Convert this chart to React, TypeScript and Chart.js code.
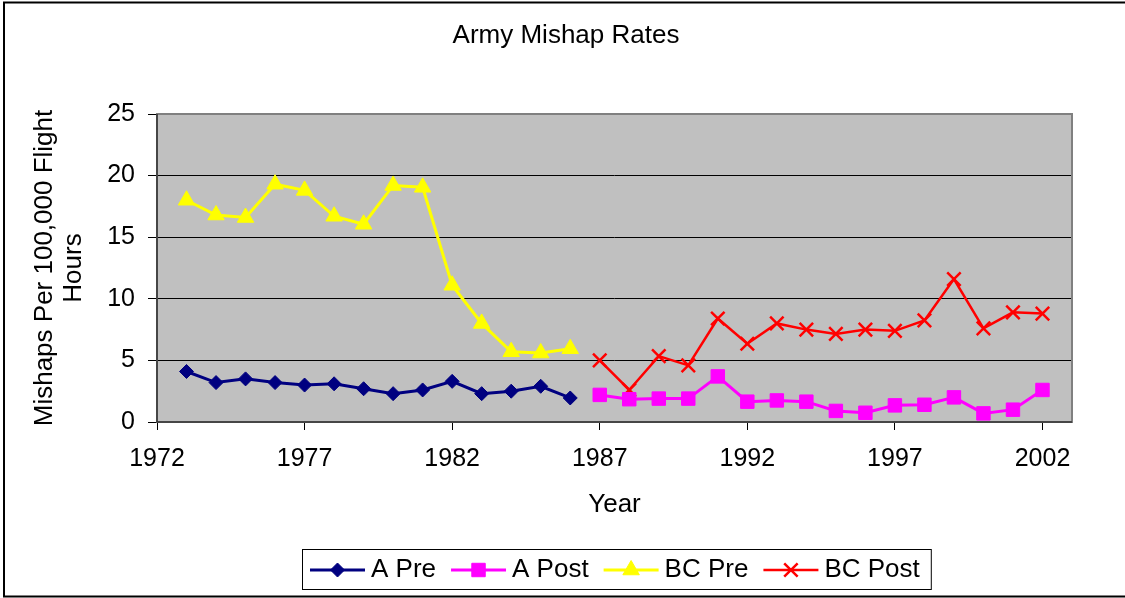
import React, { useEffect, useRef } from "react";
import { Chart, registerables } from "chart.js";

Chart.register(...registerables);

const FONT = '"Liberation Sans", Arial, sans-serif';

const chartTitle = "Army Mishap Rates";
const yTitleLines = ["Mishaps Per 100,000 Flight", "Hours"];
const xTitle = "Year";

const preYears = [1973, 1974, 1975, 1976, 1977, 1978, 1979, 1980, 1981, 1982, 1983, 1984, 1985, 1986];
const postYears = [1987, 1988, 1989, 1990, 1991, 1992, 1993, 1994, 1995, 1996, 1997, 1998, 1999, 2000, 2001, 2002];

const aPre = [4.1, 3.2, 3.5, 3.2, 3.0, 3.1, 2.7, 2.3, 2.6, 3.3, 2.3, 2.5, 2.9, 1.95];
const aPost = [2.2, 1.85, 1.9, 1.9, 3.7, 1.65, 1.75, 1.65, 0.9, 0.75, 1.35, 1.4, 2.0, 0.7, 1.0, 2.6];
const bcPre = [18.0, 16.8, 16.6, 19.3, 18.8, 16.7, 16.05, 19.2, 19.05, 11.1, 8.0, 5.7, 5.6, 5.95];
const bcPost = [5.0, 2.6, 5.35, 4.6, 8.4, 6.35, 8.0, 7.5, 7.15, 7.5, 7.4, 8.25, 11.6, 7.6, 8.9, 8.8];

const xTickYears = [1972, 1977, 1982, 1987, 1992, 1997, 2002];
const xMin = 1972;
const xMax = 2003;
const yMin = 0;
const yMax = 25;
const yStep = 5;

const toPoints = (xs: number[], ys: number[]) => xs.map((x, i) => ({ x, y: ys[i] }));

function drawMarker(ctx: CanvasRenderingContext2D, style: string, x: number, y: number, r: number, fill: string, stroke: string, bw: number) {
  ctx.save();
  ctx.fillStyle = fill;
  ctx.strokeStyle = stroke;
  ctx.lineWidth = bw;
  ctx.beginPath();
  if (style === "rectRot") {
    ctx.moveTo(x, y - r);
    ctx.lineTo(x + r, y);
    ctx.lineTo(x, y + r);
    ctx.lineTo(x - r, y);
    ctx.closePath();
    ctx.fill();
    ctx.stroke();
  } else if (style === "rect") {
    const s = r * Math.SQRT1_2;
    ctx.rect(x - s, y - s, 2 * s, 2 * s);
    ctx.fill();
    ctx.stroke();
  } else if (style === "triangle") {
    for (let k = 0; k < 3; k++) {
      const a = (k * 2 * Math.PI) / 3;
      const px = x + Math.sin(a) * r;
      const py = y - Math.cos(a) * r;
      if (k === 0) ctx.moveTo(px, py);
      else ctx.lineTo(px, py);
    }
    ctx.closePath();
    ctx.fill();
    ctx.stroke();
  } else if (style === "crossRot") {
    const o = r * Math.SQRT1_2;
    ctx.moveTo(x - o, y - o);
    ctx.lineTo(x + o, y + o);
    ctx.moveTo(x - o, y + o);
    ctx.lineTo(x + o, y - o);
    ctx.stroke();
  }
  ctx.restore();
}

const decorPlugin = {
  id: "decor",
  beforeDraw(chart: any) {
    const { ctx, chartArea: a } = chart;
    ctx.save();
    ctx.fillStyle = "#ffffff";
    ctx.fillRect(0, 0, chart.width, chart.height);
    ctx.fillStyle = "#C0C0C0";
    ctx.fillRect(a.left, a.top, a.right - a.left, a.bottom - a.top);
    ctx.restore();
  },
  beforeDatasetsDraw(chart: any) {
    const { ctx, chartArea: a } = chart;
    ctx.save();
    ctx.strokeStyle = "#808080";
    ctx.lineWidth = 2;
    ctx.strokeRect(a.left, a.top, a.right - a.left, a.bottom - a.top);
    ctx.strokeStyle = "#333333";
    ctx.lineWidth = 1.5;
    ctx.beginPath();
    ctx.moveTo(a.left, a.top);
    ctx.lineTo(a.left, a.bottom);
    ctx.lineTo(a.right, a.bottom);
    ctx.stroke();
    ctx.restore();
  },
  afterDraw(chart: any) {
    const { ctx, chartArea: a } = chart;
    ctx.save();
    ctx.strokeStyle = "#000000";
    ctx.lineWidth = 2;
    ctx.beginPath();
    ctx.moveTo(chart.width, 2.5);
    ctx.lineTo(4, 2.5);
    ctx.lineTo(4, 596.5);
    ctx.lineTo(chart.width, 596.5);
    ctx.stroke();

    ctx.fillStyle = "#000000";
    ctx.textAlign = "center";
    ctx.textBaseline = "middle";
    ctx.font = `26px ${FONT}`;
    ctx.fillText(chartTitle, 566, 36);

    const cx = (a.left + a.right) / 2;
    const cy = (a.top + a.bottom) / 2;
    ctx.fillText(xTitle, cx, 505);

    const lineX = [45, 74];
    yTitleLines.forEach((t, i) => {
      ctx.save();
      ctx.translate(lineX[i], cy);
      ctx.rotate(-Math.PI / 2);
      ctx.fillText(t, 0, 0);
      ctx.restore();
    });

    const lineLen = 55;
    const gapLT = 6;
    const gapItem = 15;
    const padL = 8;
    const padR = 11;
    const items = chart.data.datasets.map((d: any) => ({
      label: d.label,
      color: d.borderColor,
      style: d.pointStyle,
      r: d.pointRadius,
      fill: d.pointBackgroundColor,
      stroke: d.pointBorderColor,
      bw: d.pointBorderWidth,
      lw: d.borderWidth,
      w: ctx.measureText(d.label).width,
    }));
    let content = 0;
    items.forEach((it: any, i: number) => {
      content += lineLen + gapLT + it.w + (i < items.length - 1 ? gapItem : 0);
    });
    const boxW = content + padL + padR;
    const boxTop = 549;
    const boxH = 40;
    const boxLeft = Math.round(cx + 2 - boxW / 2);
    ctx.strokeStyle = "#000000";
    ctx.lineWidth = 1;
    ctx.strokeRect(boxLeft + 0.5, boxTop + 0.5, boxW, boxH);
    const ly = boxTop + boxH / 2 + 1;
    let x = boxLeft + padL;
    ctx.textAlign = "left";
    items.forEach((it: any) => {
      ctx.strokeStyle = it.color;
      ctx.lineWidth = it.lw;
      ctx.beginPath();
      ctx.moveTo(x, ly);
      ctx.lineTo(x + lineLen, ly);
      ctx.stroke();
      drawMarker(ctx, it.style, x + lineLen / 2, ly, it.r, it.fill, it.stroke, it.bw);
      x += lineLen + gapLT;
      ctx.fillStyle = "#000000";
      ctx.fillText(it.label, x, ly);
      x += it.w + gapItem;
    });
    ctx.restore();
  },
};

export default function App() {
  const ref = useRef<HTMLCanvasElement | null>(null);

  useEffect(() => {
    if (!ref.current) return;
    const chart = new Chart(ref.current, {
      type: "line",
      data: {
        datasets: [
          {
            label: "A Pre",
            data: toPoints(preYears, aPre),
            borderColor: "#000080",
            backgroundColor: "#000080",
            borderWidth: 3,
            pointStyle: "rectRot",
            pointRadius: 7,
            pointBackgroundColor: "#000080",
            pointBorderColor: "#000080",
            pointBorderWidth: 1,
            tension: 0,
          },
          {
            label: "A Post",
            data: toPoints(postYears, aPost),
            borderColor: "#FF00FF",
            backgroundColor: "#FF00FF",
            borderWidth: 3,
            pointStyle: "rect",
            pointRadius: 9.5,
            pointBackgroundColor: "#FF00FF",
            pointBorderColor: "#FF00FF",
            pointBorderWidth: 1,
            tension: 0,
          },
          {
            label: "BC Pre",
            data: toPoints(preYears, bcPre),
            borderColor: "#FFFF00",
            backgroundColor: "#FFFF00",
            borderWidth: 3,
            pointStyle: "triangle",
            pointRadius: 9.5,
            pointBackgroundColor: "#FFFF00",
            pointBorderColor: "#FFFF00",
            pointBorderWidth: 1,
            tension: 0,
          },
          {
            label: "BC Post",
            data: toPoints(postYears, bcPost),
            borderColor: "#FF0000",
            backgroundColor: "#FF0000",
            borderWidth: 2.5,
            pointStyle: "crossRot",
            pointRadius: 9.5,
            pointBackgroundColor: "#FF0000",
            pointBorderColor: "#FF0000",
            pointBorderWidth: 2.5,
            tension: 0,
          },
        ],
      },
      options: {
        responsive: false,
        animation: false,
        devicePixelRatio: 1,
        layout: { padding: { top: 114, left: 0, right: 53, bottom: 0 } },
        plugins: {
          legend: { display: false },
          title: { display: false },
          tooltip: { enabled: false },
        },
        scales: {
          x: {
            type: "linear",
            min: xMin,
            max: xMax,
            afterBuildTicks: (scale: any) => {
              scale.ticks = xTickYears.map((v) => ({ value: v }));
            },
            afterFit: (scale: any) => {
              scale.height = 176;
            },
            ticks: {
              autoSkip: false,
              maxRotation: 0,
              padding: 14,
              color: "#000000",
              font: { family: FONT, size: 25 },
              callback: (v: any) => String(v),
            },
            grid: {
              drawOnChartArea: false,
              drawTicks: true,
              tickLength: 8,
              color: "#000000",
              tickColor: "#000000",
            },
            border: { display: false },
          },
          y: {
            min: yMin,
            max: yMax,
            afterFit: (scale: any) => {
              scale.width = 157;
            },
            ticks: {
              stepSize: yStep,
              padding: 13,
              color: "#000000",
              font: { family: FONT, size: 25 },
            },
            grid: {
              color: "#000000",
              tickColor: "#000000",
              tickLength: 9,
              lineWidth: 1,
            },
            border: { display: false },
          },
        },
      },
      plugins: [decorPlugin],
    } as any);
    return () => chart.destroy();
  }, []);

  return (
    <div style={{ position: "fixed", left: 0, top: 0, width: 1125, height: 598, background: "#fff" }}>
      <canvas ref={ref} width={1125} height={598} style={{ display: "block" }} />
    </div>
  );
}
